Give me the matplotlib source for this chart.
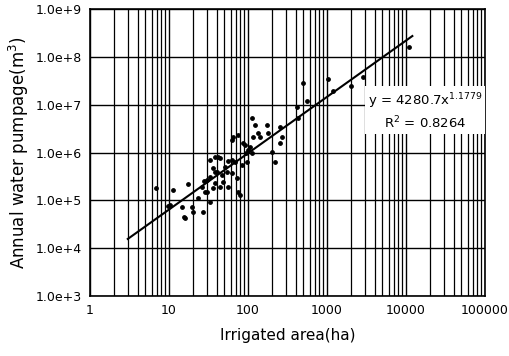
import numpy as np
import matplotlib
matplotlib.use('Agg')
import matplotlib.pyplot as plt
from matplotlib.ticker import FixedLocator, LogLocator, NullFormatter

plt.rcParams['font.family'] = ['DejaVu Sans']

# 灌漑面積 (ha) と年間揚水量 (m3)
area = [6.8, 11.2, 17.4, 9.7, 15.5, 19.5, 20.1, 26.9, 23.3, 26.2,
        30.3, 27.7, 33.0, 36.1, 38.2, 36.1, 41.7, 38.2, 44.2, 51.2,
        54.2, 55.8, 62.7, 64.6, 68.4, 74.6, 72.6, 74.6, 79.2, 86.4,
        84.0, 97.1, 94.3, 100, 112, 123, 116, 134, 112, 174,
        179, 201, 220, 254, 269, 254, 417, 429, 497, 558,
        1030, 1190, 2010, 2860, 10900, 62.7, 10.3, 15.9, 33.0, 38.2,
        44.2, 62.7, 91.6, 33.0, 46.9, 48.3, 55.8, 28.6, 106, 142,
        14.6, 30.3, 40.5]
pumpage = [1.82e5, 1.65e5, 2.2e5, 7.6e4, 4.5e4, 7.3e4, 5.7e4, 5.7e4, 1.12e5, 1.9e5,
           1.5e5, 2.55e5, 7.0e5, 4.76e5, 3.93e5, 1.82e5, 8.1e5, 2.3e5, 1.9e5, 5.0e5,
           3.93e5, 6.7e5, 1.84e6, 2.12e6, 6.4e5, 2.33e6, 2.94e5, 1.5e5, 1.3e5, 1.59e6,
           5.5e5, 6.4e5, 9.8e5, 1.13e6, 5.3e6, 3.8e6, 2.12e6, 2.57e6, 9.8e5, 3.8e6,
           2.57e6, 1.03e6, 6.4e5, 1.59e6, 2.12e6, 3.4e6, 9.0e6, 5.3e6, 2.86e7, 1.2e7,
           3.47e7, 1.94e7, 2.47e7, 3.8e7, 1.62e8, 3.74e5, 8.0e4, 4.3e4, 9.3e4, 8.1e5,
           7.7e5, 7.0e5, 1.44e6, 3.09e5, 3.4e5, 2.43e5, 1.9e5, 1.5e5, 1.31e6, 2.12e6,
           7.3e4, 2.67e5, 3.93e5]

# 回帰式 y = a x^b
coef_a = 4280.7
coef_b = 1.1779
fit_x = np.logspace(np.log10(3), np.log10(12000), 50)
fit_y = coef_a * fit_x ** coef_b

x_ticks = [1, 10, 100, 1000, 10000, 100000]
x_ticklabels = ['1', '10', '100', '1000', '10000', '100000']
y_ticks = [1e3, 1e4, 1e5, 1e6, 1e7, 1e8, 1e9]
y_ticklabels = ['1.0e+3', '1.0e+4', '1.0e+5', '1.0e+6', '1.0e+7', '1.0e+8', '1.0e+9']

fig = plt.figure(figsize=(5.09, 3.56), dpi=100)
ax = fig.add_axes([0.177, 0.1685, 0.776, 0.806])
ax.set_xscale('log')
ax.set_yscale('log')
ax.set_xlim(1, 100000)
ax.set_ylim(1e3, 1e9)

ax.set_xticks(x_ticks)
ax.set_xticklabels(x_ticklabels)
ax.set_yticks(y_ticks)
ax.set_yticklabels(y_ticklabels)
ax.xaxis.set_minor_locator(LogLocator(base=10, subs=np.arange(2, 10)))
ax.xaxis.set_minor_formatter(NullFormatter())
ax.yaxis.set_minor_locator(FixedLocator([]))
ax.tick_params(which='both', length=0, labelsize=9, colors='black')
ax.tick_params(axis='x', pad=6)
ax.tick_params(axis='y', pad=6)

ax.grid(True, which='major', color='black', lw=1.0)
ax.grid(True, which='minor', axis='x', color='black', lw=0.9)
ax.set_axisbelow(True)
for s in ax.spines.values():
    s.set_linewidth(1.2)

ax.scatter(area, pumpage, s=6, color='black', zorder=3)
ax.plot(fit_x, fit_y, color='black', lw=1.5, zorder=3)

ax.text(17400, 10 ** 6.86, 'y = 4280.7x$^{1.1779}$\nR$^2$ = 0.8264',
        ha='center', va='center', fontsize=9.5, linespacing=1.3, zorder=4,
        bbox=dict(facecolor='white', edgecolor='none', pad=2))

ax.set_xlabel('Irrigated area(ha)', fontsize=11, labelpad=8)
ax.set_ylabel('Annual water pumpage(m$^3$)', fontsize=12, labelpad=3)

fig.savefig('out.png', dpi=100)
